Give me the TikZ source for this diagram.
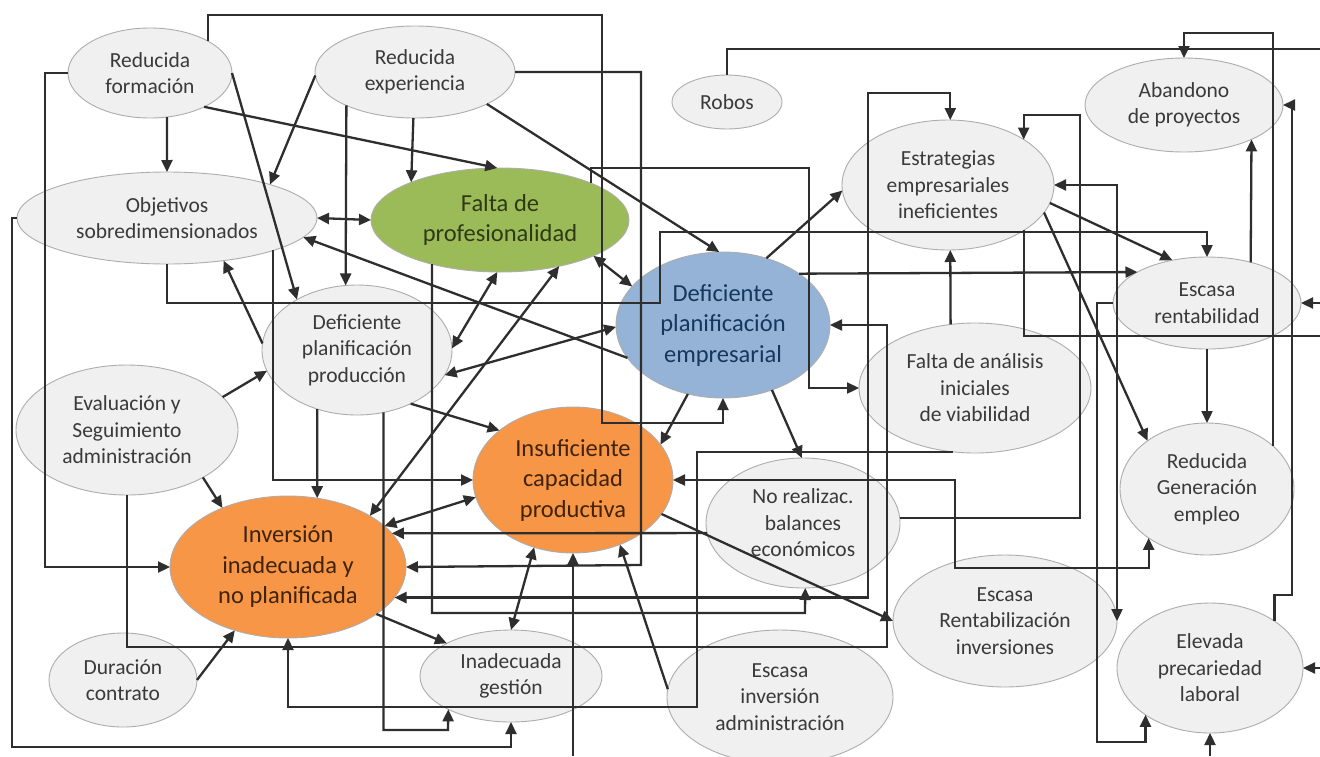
\documentclass[tikz,border=0pt]{standalone}
\usepackage{fontspec}
\setmainfont{Carlito}
\usetikzlibrary{shapes.geometric,arrows.meta,calc}
\definecolor{gfill}{HTML}{F0F0F0}
\definecolor{gline}{HTML}{ADADAD}
\definecolor{gtext}{HTML}{3A3A3A}
\definecolor{lcol}{HTML}{2E2E2E}
\definecolor{grfill}{HTML}{9BBB59}
\definecolor{grtext}{HTML}{2F3A14}
\definecolor{blfill}{HTML}{95B3D7}
\definecolor{bltext}{HTML}{17365D}
\definecolor{orfill}{HTML}{F79646}
\definecolor{ortext}{HTML}{40230A}
\makeatletter
\newcommand\borderpt[4]{%
  \pgfpointanchor{#2}{center}%
  \edef\bpcx{\the\pgf@x}\edef\bpcy{\the\pgf@y}%
  \pgfmathsetmacro\bpang{atan2(-(#4)-(\bpcy),(#3)-(\bpcx))}%
  \coordinate (#1) at (#2.\bpang);%
}
\makeatother
\tikzset{
  elg/.style={ellipse, draw=gline, line width=0.9pt, fill=gfill, text=gtext,
    inner sep=0pt, outer sep=0pt, align=center, font=\fontsize{21.5}{26.5}\selectfont},
  elc/.style={ellipse, draw=gline, line width=0.9pt, inner sep=0pt, outer sep=0pt,
    align=center, font=\fontsize{24.5}{30.5}\selectfont},
  cline/.style={draw=lcol, line width=2.3pt},
  carrow/.style={cline, -{Triangle[length=12pt,width=11pt]}},
  cdarrow/.style={cline, {Triangle[length=12pt,width=11pt]}-{Triangle[length=12pt,width=11pt]}},
}
\begin{document}
\begin{tikzpicture}[x=1pt,y=-1pt]
\useasboundingbox (0,0) rectangle (1320,756);
\clip (0,0) rectangle (1320,756);
\fill[white] (0,0) rectangle (1320,756);

% ---------- nodes ----------
\node[elg, minimum width=164pt, minimum height=90pt] (rf) at (150,73) {Reducida\\formación};
\node[elg, minimum width=200pt, minimum height=92pt] (re) at (415,72) {Reducida\\experiencia};
\node[elg, minimum width=300pt, minimum height=92pt] (ob) at (167,218) {Objetivos\\sobredimensionados};
\node[elc, fill=grfill, text=grtext, minimum width=258pt, minimum height=104pt] (fp) at (500,220) {Falta de\\profesionalidad};
\node[elg, minimum width=110pt, minimum height=54pt] (ro) at (727,102) {Robos};
\node[elc, fill=blfill, text=bltext, minimum width=214pt, minimum height=146pt] (dpe) at (723,325) {Deficiente\\planificación\\empresarial};
\node[elg, minimum width=190pt, minimum height=130pt] (dpp) at (357,350) {Deficiente\\planificación\\producción};
\node[elg, minimum width=222pt, minimum height=130pt] (ev) at (127,430) {Evaluación y\\Seguimiento\\administración};
\node[elc, fill=orfill, text=ortext, minimum width=200pt, minimum height=146pt] (ic) at (573,480) {Insuficiente\\capacidad\\productiva};
\node[elc, fill=orfill, text=ortext, minimum width=236pt, minimum height=142pt] (ii) at (288,567) {Inversión\\inadecuada y\\no planificada};
\node[elg, minimum width=148pt, minimum height=94pt] (dc) at (123,680) {Duración\\contrato};
\node[elg, minimum width=182pt, minimum height=92pt] (ig) at (511,676) {Inadecuada\\gestión};
\node[elg, minimum width=226pt, minimum height=134pt] (eia) at (780,697) {Escasa\\inversión\\administración};
\node[elg, minimum width=194pt, minimum height=130pt] (nrb) at (803,523) {No realizac.\\balances\\económicos};
\node[elg, minimum width=224pt, minimum height=132pt] (erv) at (1005,621) {Escasa\\Rentabilización\\inversiones};
\node[elg, minimum width=232pt, minimum height=130pt] (fa) at (975,388) {Falta de análisis\\iniciales\\de viabilidad};
\node[elg, minimum width=212pt, minimum height=130pt] (ee) at (948,185) {Estrategias\\empresariales\\ineficientes};
\node[elg, minimum width=198pt, minimum height=94pt] (ab) at (1184,105) {Abandono\\de proyectos};
\node[elg, minimum width=188pt, minimum height=92pt] (er) at (1207,303) {Escasa\\rentabilidad};
\node[elg, minimum width=174pt, minimum height=132pt] (rg) at (1207,489) {Reducida\\Generación\\empleo};
\node[elg, minimum width=186pt, minimum height=130pt] (ep) at (1210,668) {Elevada\\precariedad\\laboral};

% ---------- border points ----------
\borderpt{a1}{rf}{167}{118}   \borderpt{b1}{ob}{167}{172}
\borderpt{a2}{re}{317}{75}    \borderpt{b2}{ob}{272}{182}
\borderpt{a3}{re}{413}{118}   \borderpt{b3}{fp}{410}{183}
\borderpt{a4}{rf}{208}{110}   \borderpt{b4}{fp}{497}{168}
\borderpt{a5}{re}{487}{105}   \borderpt{b5}{dpe}{718}{251}
\borderpt{a6}{rf}{232}{73}    \borderpt{b6}{dpp}{297}{300}
\borderpt{a7}{re}{345}{105}   \borderpt{b7}{dpp}{345}{286}
\borderpt{a9}{dpe}{627}{357}  \borderpt{b9}{ob}{310}{240}
\borderpt{a10}{fp}{593}{256}  \borderpt{b10}{dpe}{630}{287}
\borderpt{a11}{fp}{497}{272}  \borderpt{b11}{dpp}{453}{347}
\borderpt{a12}{dpe}{616}{326} \borderpt{b12}{dpp}{448}{377}
\borderpt{a13}{fp}{560}{267}  \borderpt{b13}{ii}{373}{512}
\borderpt{a14}{ev}{222}{397}  \borderpt{b14}{dpp}{264}{370}
\borderpt{a15}{dpp}{264}{345} \borderpt{b15}{ob}{224}{262}
\borderpt{a16}{ev}{203}{478}  \borderpt{b16}{ii}{221}{507}
\borderpt{a17}{dpp}{317}{409} \borderpt{b17}{ii}{317}{497}
\borderpt{a18}{dpp}{410}{404} \borderpt{b18}{ic}{497}{430}
\borderpt{a19}{ii}{383}{525}  \borderpt{b19}{ic}{476}{497}
\borderpt{a20}{dpe}{685}{398} \borderpt{b20}{ic}{660}{444}
\borderpt{a21}{dpe}{771}{390} \borderpt{b21}{nrb}{801}{458}
\borderpt{a22}{dpe}{767}{257} \borderpt{b22}{ee}{842}{189}
\borderpt{a23}{fa}{950}{323}  \borderpt{b23}{ee}{950}{250}
\borderpt{a24}{ee}{1055}{205} \borderpt{b24}{er}{1172}{261}
\borderpt{a25}{ee}{1047}{214} \borderpt{b25}{rg}{1147}{441}
\borderpt{a26}{dpe}{798}{273} \borderpt{b26}{er}{1137}{272}
\borderpt{a27}{er}{1250}{262} \borderpt{b27}{ab}{1250}{140}
\borderpt{a29}{dc}{197}{680}  \borderpt{b29}{ii}{234}{630}
\borderpt{a30}{ii}{368}{610}  \borderpt{b30}{ig}{445}{643}
\borderpt{a31}{ic}{533}{547}  \borderpt{b31}{ig}{511}{630}
\borderpt{a32}{eia}{668}{690} \borderpt{b32}{ic}{619}{545}
\borderpt{a33}{ic}{662}{515}  \borderpt{b33}{erv}{893}{621}

\borderpt{o1}{rf}{207}{41}
\borderpt{o2}{ii}{405}{565}
\borderpt{o3}{fp}{590}{183}
\borderpt{o5}{ob}{273}{251}
\borderpt{o9a}{dpp}{383}{412}  \borderpt{o9b}{ig}{448}{709}
\borderpt{o10a}{fp}{432}{264}  \borderpt{o10b}{nrb}{805}{588}
\borderpt{o11}{fa}{952}{452}
\borderpt{o12}{rg}{1273}{446}
\borderpt{o13}{ep}{1274}{621}
\borderpt{o15}{ee}{1023}{231}
\borderpt{o16a}{nrb}{900}{517} \borderpt{o16b}{ee}{1023}{139}
\borderpt{o17a}{ii}{395}{598}  \borderpt{o17b}{ee}{950}{120}
\borderpt{o18}{rg}{1148}{537}
\borderpt{o19a}{nrb}{707}{533} \borderpt{o19b}{ii}{392}{533}
\borderpt{o20}{ep}{1145}{714}

\coordinate (robend) at (1320,49);
\coordinate (eeend) at (1320,336);
\coordinate (rin1) at (1320,303);
\coordinate (rin2) at (1320,668);
\coordinate (bin1) at (1210,756);
\coordinate (bin2) at (573,756);

% ---------- orthogonal connectors ----------
\draw[carrow] (o1) |- (602,15) |- (723,423) -- (dpe.south);
\draw[carrow] (re.east) -| (641,565) -- (o2);
\draw[carrow] (o3) |- (809,168) |- (fa.west);
\draw[carrow] (ob.south) |- (660,303) |- (1207,232) -- (er.north);
\draw[carrow] (o5) |- (ic.west);
\draw[carrow] (ob.west) -- (12,218) |- (511,747) -- (ig.south);
\draw[carrow] (rf.west) -| (45,567) -- (ii.west);
\draw[carrow] (ev.south) |- (887,647) |- (dpe.east);
\draw[carrow] (o9a) |- (448,730) -- (o9b);
\draw[carrow] (o10a) |- (805,613) -- (o10b);
\draw[carrow] (o11) -| (697,707) -| (ii.south);
\draw[carrow] (o12) |- (1183,33) -| (ab.north);
\draw[carrow] (o13) |- (1292,595) |- (ab.east);
\draw[cline] (ro.north) |- (robend);
\draw[cline] (o15) |- (eeend);
\draw[carrow] (o16a) -| (1080,115) -| (o16b);
\draw[cdarrow] (o17a) -| (868,93) -| (o17b);
\draw[cdarrow] (ic.east) -| (955,568) -| (o18);
\draw[carrow] (o19a) -- (o19b);
\draw[carrow] (er.west) -| (1097,742) -| (o20);
\draw[cdarrow] (ee.east) -| (erv.east);
\draw[carrow] (rin1) -- (er.east);
\draw[carrow] (rin2) -- (ep.east);
\draw[carrow] (bin1) -- (ep.south);
\draw[carrow] (bin2) -- (ic.south);

% ---------- straight connectors ----------
\draw[carrow] (a1) -- (b1);
\draw[carrow] (a2) -- (b2);
\draw[carrow] (a3) -- (b3);
\draw[carrow] (a4) -- (b4);
\draw[carrow] (a5) -- (b5);
\draw[carrow] (a6) -- (b6);
\draw[carrow] (a7) -- (b7);
\draw[cdarrow] (ob.east) -- (fp.west);
\draw[carrow] (a9) -- (b9);
\draw[cdarrow] (a10) -- (b10);
\draw[cdarrow] (a11) -- (b11);
\draw[cdarrow] (a12) -- (b12);
\draw[cdarrow] (a13) -- (b13);
\draw[carrow] (a14) -- (b14);
\draw[carrow] (a15) -- (b15);
\draw[carrow] (a16) -- (b16);
\draw[carrow] (a17) -- (b17);
\draw[carrow] (a18) -- (b18);
\draw[cdarrow] (a19) -- (b19);
\draw[carrow] (a20) -- (b20);
\draw[carrow] (a21) -- (b21);
\draw[carrow] (a22) -- (b22);
\draw[carrow] (a23) -- (b23);
\draw[carrow] (a24) -- (b24);
\draw[carrow] (a25) -- (b25);
\draw[carrow] (a26) -- (b26);
\draw[carrow] (a27) -- (b27);
\draw[carrow] (er.south) -- (rg.north);
\draw[carrow] (a29) -- (b29);
\draw[carrow] (a30) -- (b30);
\draw[cdarrow] (a31) -- (b31);
\draw[carrow] (a32) -- (b32);
\draw[carrow] (a33) -- (b33);
\end{tikzpicture}
\end{document}
